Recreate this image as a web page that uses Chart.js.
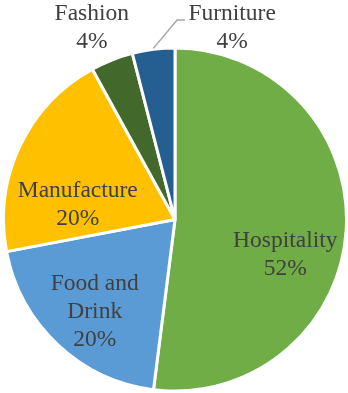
<!DOCTYPE html>
<html>
<head>
<meta charset="utf-8">
<script src="https://cdn.jsdelivr.net/npm/chart.js@4.4.1/dist/chart.umd.min.js"></script>
<style>
  html, body { margin: 0; padding: 0; background: #fff; }
  #wrap { width: 348px; height: 393px; position: relative; }
</style>
</head>
<body>
<div id="wrap"><canvas id="mainChart"></canvas></div>
<script>
const categories = ['Hospitality', 'Food and Drink', 'Manufacture', 'Fashion', 'Furniture'];
const shares = [52, 20, 20, 4, 4];
const sliceColors = ['#70AD47', '#5B9BD5', '#FFC000', '#43682B', '#255E91'];
// label lines per slice (Excel wraps "Food and Drink")
const labelLines = [['Hospitality'], ['Food and', 'Drink'], ['Manufacture'], ['Fashion'], ['Furniture']];
// label block centre, relative to pie centre, in units of radius
const labelOffsets = [[0.643, 0.205], [-0.468, 0.538], [-0.567, -0.088], [-0.485, -1.117], [0.333, -1.117]];

const sliceLabels = {
    id: 'sliceLabels',
    afterDraw(chart) {
        const ctx = chart.ctx;
        const arcs = chart.getDatasetMeta(0).data;
        ctx.save();
        ctx.font = '23.5px "Times New Roman", "Liberation Serif", Tinos, serif';
        ctx.fillStyle = '#404040';
        ctx.textAlign = 'center';
        ctx.textBaseline = 'middle';
        const lh = 28;
        arcs.forEach((arc, i) => {
            const r = arc.outerRadius;
            const cx = arc.x + labelOffsets[i][0] * r;
            const cy = arc.y + labelOffsets[i][1] * r;
            const lines = labelLines[i].concat([shares[i] + '%']);
            const top = cy - (lines.length - 1) * lh / 2;
            lines.forEach((t, k) => ctx.fillText(t, cx, top + k * lh));
        });
        // leader line for Furniture
        const a = arcs[4];
        const mid = (a.startAngle + a.endAngle) / 2;
        const r = a.outerRadius;
        const lx = a.x + labelOffsets[4][0] * r;
        const ly = a.y + labelOffsets[4][1] * r - 8;
        ctx.strokeStyle = '#A6A6A6';
        ctx.lineWidth = 1.5;
        ctx.beginPath();
        ctx.moveTo(a.x + Math.cos(mid) * (r + 1), a.y + Math.sin(mid) * (r + 1));
        ctx.lineTo(lx - 55, ly);
        ctx.lineTo(lx - 47, ly);
        ctx.stroke();
        ctx.restore();
    }
};

const ctx = document.getElementById('mainChart').getContext('2d');
new Chart(ctx, {
    type: 'pie',
    data: {
        labels: categories,
        datasets: [{
            data: shares,
            backgroundColor: sliceColors,
            borderColor: '#ffffff',
            borderWidth: 3
        }]
    },
    options: {
        responsive: true,
        maintainAspectRatio: false,
        animation: false,
        layout: { padding: { top: 46, bottom: 0, left: 2, right: 0 } },
        plugins: {
            legend: { display: false },
            tooltip: { enabled: false }
        }
    },
    plugins: [sliceLabels]
});
</script>
</body>
</html>
